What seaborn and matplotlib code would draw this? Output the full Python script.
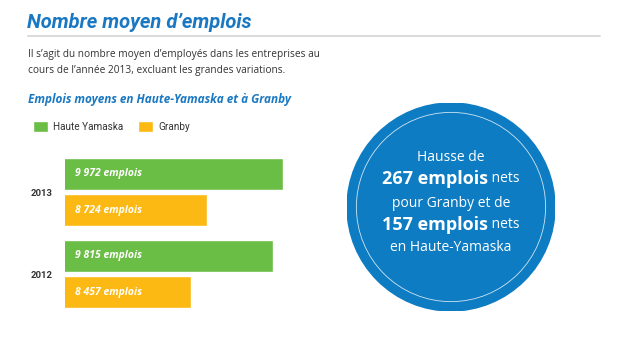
import matplotlib
matplotlib.use("Agg")
import matplotlib.pyplot as plt
from matplotlib.patches import Circle
import pandas as pd
import seaborn as sns

# === DATA ===
years = ["2013", "2012"]
regions = ["Haute Yamaska", "Granby"]
haute_yamaska = [9972, 9815]
granby = [8724, 8457]

GREEN = "#6abd45"
YELLOW = "#fdb913"
BLUE = "#1a78c2"
CIRCLE_BLUE = "#0e7cc2"
DARK = "#333333"
NARROW = ["Roboto", "DejaVu Sans"]

df = pd.DataFrame({
    "year": years * 2,
    "region": [regions[0]] * 2 + [regions[1]] * 2,
    "value": haute_yamaska + granby,
})

sns.set_style("white")
plt.rcParams["font.family"] = ["Open Sans", "DejaVu Sans"]

W, H = 624, 355
fig = plt.figure(figsize=(W / 100, H / 100), dpi=100)

def fx(px):
    return px / W

def fy(py):
    return 1 - py / H

# === BAR CHART ===
ax = fig.add_axes([fx(65), fy(315), fx(235), 164 / H])
sns.barplot(data=df, y="year", x="value", hue="region", order=years,
            hue_order=regions, palette=[GREEN, YELLOW], orient="h",
            width=0.9, gap=0.135, saturation=1, ax=ax, legend=True)
# bars are drawn on a truncated axis, as in the original infographic
ax.set_xlim(6390, 10260)
ax.set_ylim(1.5, -0.5)
ax.set_xlabel("")
ax.set_ylabel("")
ax.set_xticks([])
sns.despine(ax=ax, left=True, bottom=True)
ax.tick_params(axis="y", length=0, pad=9)
for t in ax.get_yticklabels():
    t.set_fontweight("bold")
    t.set_fontsize(6.8)
    t.set_color(DARK)
    t.set_family(NARROW)

vals = {(y, r): v for y, r, v in zip(df["year"], df["region"], df["value"])}
bars = [p for p in ax.patches if p.get_height() > 0 and p.get_width() > 0]
bars.sort(key=lambda p: p.get_y())
order = [(y, r) for y in years for r in regions]
for p, key in zip(bars, order):
    ax.annotate(f"{vals[key]:,}".replace(",", " ") + " emplois",
                xy=(0, p.get_y() + p.get_height() / 2),
                xycoords=("axes fraction", "data"),
                xytext=(7, 0), textcoords="offset points",
                ha="left", va="center", color="white",
                fontsize=7.5, fontweight="bold", fontstyle="italic")

handles, labels = ax.get_legend_handles_labels()
ax.legend(handles, labels, loc="upper left",
          bbox_to_anchor=(fx(28), fy(116)), bbox_transform=fig.transFigure,
          ncol=2, frameon=False, handlelength=1.5, handleheight=1.3,
          handletextpad=0.5, columnspacing=1.5, borderpad=0,
          prop={"size": 7.2, "family": NARROW}, labelcolor=DARK)

# === HEADER TEXT ===
fig.text(fx(27), fy(22), "Nombre moyen d\u2019emplois", color=BLUE,
         fontsize=14.5, fontweight="bold", fontstyle="italic", va="center",
         family=NARROW)
fig.add_artist(plt.Line2D([fx(28), fx(600)], [fy(36), fy(36)],
                          color="#d4d4d4", lw=1.2))
fig.text(fx(28), fy(55),
         "Il s\u2019agit du nombre moyen d\u2019employ\u00e9s dans les entreprises au",
         color=DARK, fontsize=7.25, va="center")
fig.text(fx(28), fy(70),
         "cours de l\u2019ann\u00e9e 2013, excluant les grandes variations.",
         color=DARK, fontsize=7.25, va="center")
fig.text(fx(28), fy(99), "Emplois moyens en Haute-Yamaska et \u00e0 Granby",
         color=BLUE, fontsize=8.5, fontweight="bold", fontstyle="italic",
         va="center")

# === CIRCLE CALLOUT ===
cx = fig.add_axes([fx(347), fy(311), fx(208), 208 / H])
cx.set_xlim(-1, 1)
cx.set_ylim(-1, 1)
cx.set_aspect("equal")
cx.axis("off")
cx.add_patch(Circle((0, 0), 1, color=CIRCLE_BLUE))
cx.add_patch(Circle((0, 0), 0.91, fill=False, ec="white", lw=0.6, alpha=0.8))

cx.text(0, 0.48, "Hausse de", color="white", fontsize=10, ha="center", va="center")
cx.text(0, 0.03, "pour Granby et de", color="white", fontsize=10, ha="center", va="center")
cx.text(0, -0.39, "en Haute-Yamaska", color="white", fontsize=10, ha="center", va="center")

renderer = fig.canvas.get_renderer()
for y, num in [(0.27, "267"), (-0.17, "157")]:
    tb = cx.text(0, y, f"{num} emplois", color="white", fontsize=13,
                 fontweight="bold", ha="left", va="center")
    tr = cx.text(0, y, " nets", color="white", fontsize=10,
                 ha="left", va="center")
    wb = tb.get_window_extent(renderer).width
    wr = tr.get_window_extent(renderer).width
    scale = 2 / 208  # data units per pixel
    start = -(wb + wr) / 2 * scale
    tb.set_x(start)
    tr.set_x(start + wb * scale)

fig.savefig("out.png", dpi=100, facecolor="white")
